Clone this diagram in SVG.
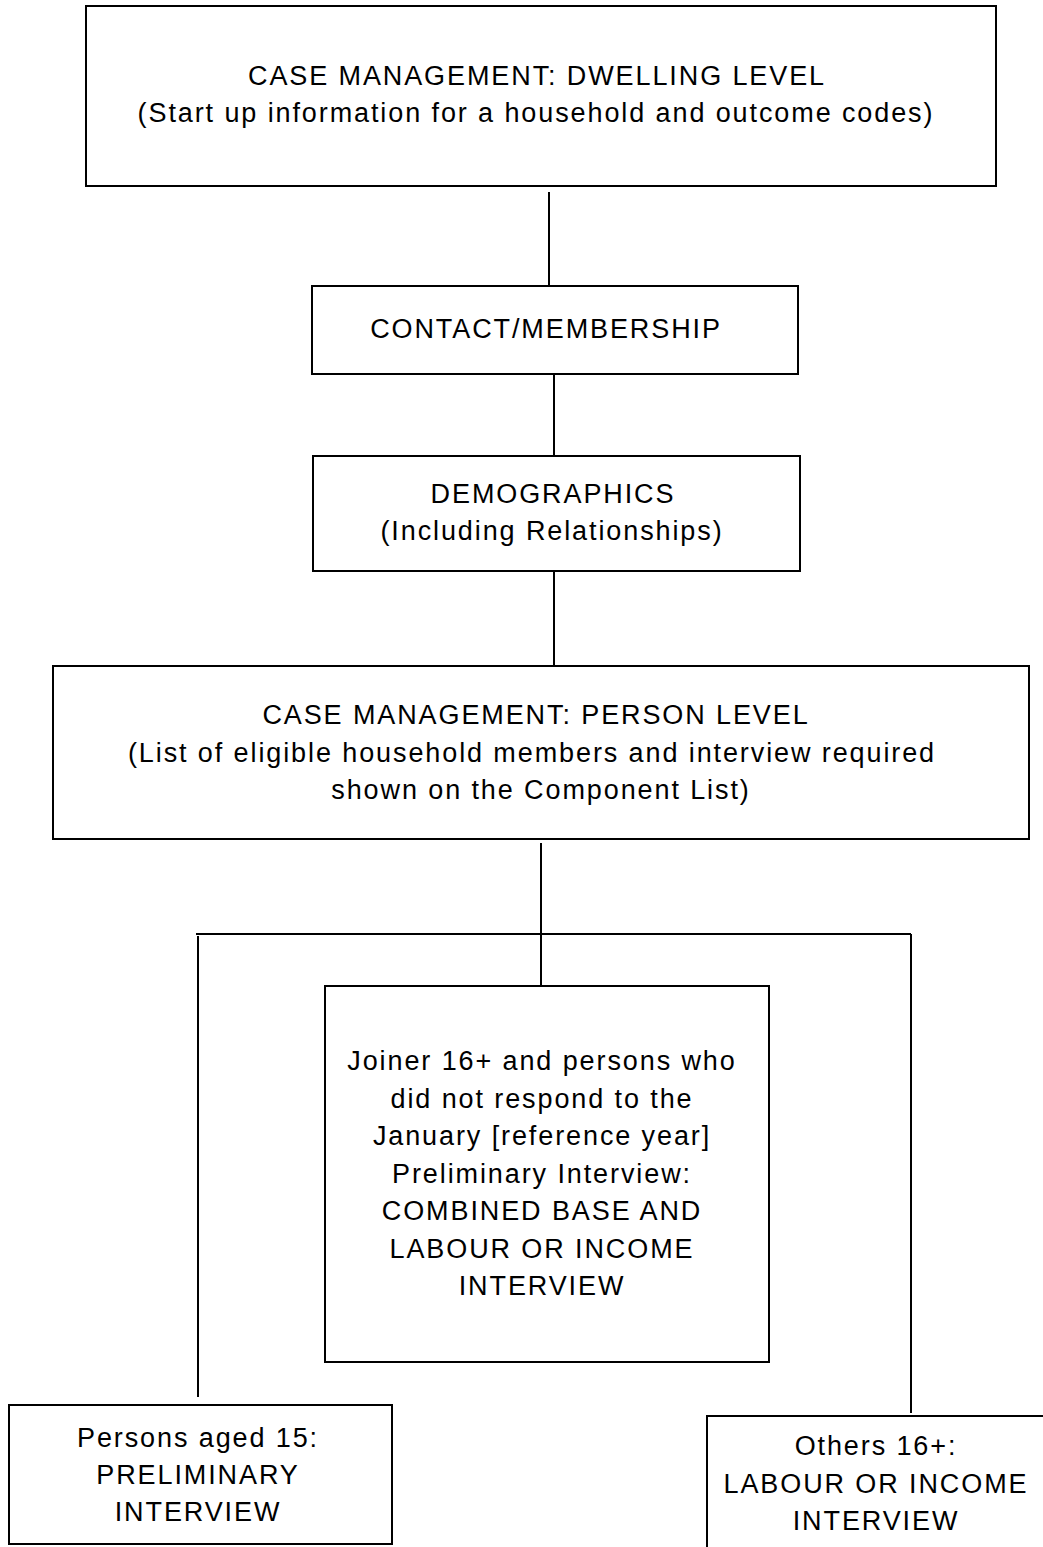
<svg xmlns="http://www.w3.org/2000/svg" width="1043" height="1547" viewBox="0 0 1043 1547">
<style>
rect{fill:#fff;stroke:#000;stroke-width:2}
line{stroke:#000;stroke-width:2}
text{font-family:"Liberation Sans",Arial,sans-serif;font-size:27px;letter-spacing:1.9px;fill:#000;text-anchor:middle}
</style>
<rect x="0" y="0" width="1043" height="1547" style="stroke:none"/>
<g id="connectors">
<line x1="549" y1="192" x2="549" y2="286"/>
<line x1="554" y1="374" x2="554" y2="456"/>
<line x1="554" y1="571" x2="554" y2="666"/>
<line x1="541" y1="843" x2="541" y2="986"/>
<line x1="196" y1="934" x2="911" y2="934"/>
<line x1="198" y1="936" x2="198" y2="1397"/>
<line x1="911" y1="934" x2="911" y2="1413"/>
</g>
<g id="n1"><rect x="86" y="6" width="910" height="180"/>
<text x="537" y="85">CASE MANAGEMENT: DWELLING LEVEL</text>
<text x="536" y="122">(Start up information for a household and outcome codes)</text></g>
<g id="n2"><rect x="312" y="286" width="486" height="88"/>
<text x="546" y="338">CONTACT/MEMBERSHIP</text></g>
<g id="n3"><rect x="313" y="456" width="487" height="115"/>
<text x="553" y="503">DEMOGRAPHICS</text>
<text x="552" y="540">(Including Relationships)</text></g>
<g id="n4"><rect x="53" y="666" width="976" height="173"/>
<text x="536" y="724">CASE MANAGEMENT: PERSON LEVEL</text>
<text x="532" y="762">(List of eligible household members and interview required</text>
<text x="541" y="799">shown on the Component List)</text></g>
<g id="n5"><rect x="325" y="986" width="444" height="376"/>
<text x="542" y="1070">Joiner 16+ and persons who</text>
<text x="542" y="1108">did not respond to the</text>
<text x="542" y="1145">January [reference year]</text>
<text x="542" y="1183">Preliminary Interview:</text>
<text x="542" y="1220">COMBINED BASE AND</text>
<text x="542" y="1258">LABOUR OR INCOME</text>
<text x="542" y="1295">INTERVIEW</text></g>
<g id="n6"><rect x="9" y="1405" width="383" height="139"/>
<text x="198" y="1447">Persons aged 15:</text>
<text x="198" y="1484">PRELIMINARY</text>
<text x="198" y="1521">INTERVIEW</text></g>
<g id="n7"><rect x="707" y="1416" width="360" height="150"/>
<text x="876" y="1455">Others 16+:</text>
<text x="876" y="1493">LABOUR OR INCOME</text>
<text x="876" y="1530">INTERVIEW</text></g>
</svg>
